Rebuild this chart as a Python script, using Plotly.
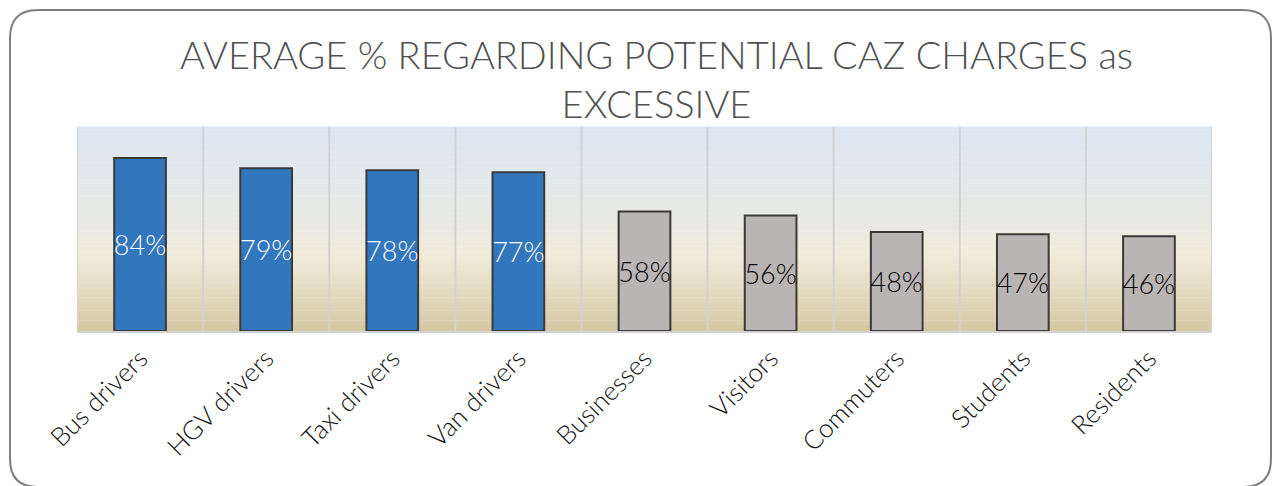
import plotly.graph_objects as go

categories = ["Bus drivers", "HGV drivers", "Taxi drivers", "Van drivers", "Businesses",
              "Visitors", "Commuters", "Students", "Residents"]
values = [84, 79, 78, 77, 58, 56, 48, 47, 46]
labels = ["84%", "79%", "78%", "77%", "58%", "56%", "48%", "47%", "46%"]
groups = ["driver", "driver", "driver", "driver", "other", "other", "other", "other", "other"]

W, H = 1275, 486
ML, MR, MT, MB = 77, 63, 127, 155
PW, PH = W - ML - MR, H - MT - MB

def px_x(p):
    return (p - ML) / PW

def px_y(p):
    return (H - MB - p) / PH

FONT = "Lato, Open Sans, sans-serif"
fill = {"driver": "#3276be", "other": "#b9b5b4"}
tcol = {"driver": "white", "other": "black"}

fig = go.Figure()
fig.add_trace(go.Bar(
    x=categories, y=values, text=labels,
    textposition="inside", insidetextanchor="middle", constraintext="none", textangle=0,
    textfont=dict(size=27, family=FONT, color=[tcol[g] for g in groups], weight=300),
    marker=dict(color=[fill[g] for g in groups],
                line=dict(color="#3a3a3a", width=2)),
    width=0.41, hoverinfo="skip", cliponaxis=False,
))

shapes = []
# gradient plot background
stops = [(0.0, (219, 231, 243)), (0.45, (232, 233, 228)), (0.62, (241, 236, 220)), (1.0, (213, 200, 163))]
N = 80
for i in range(N):
    t = (i + 0.5) / N
    for j in range(len(stops) - 1):
        if stops[j][0] <= t <= stops[j + 1][0]:
            a, ca = stops[j]
            b, cb = stops[j + 1]
            f = (t - a) / (b - a)
            c = tuple(int(round(ca[k] + (cb[k] - ca[k]) * f)) for k in range(3))
            break
    shapes.append(dict(type="rect", xref="paper", yref="paper", x0=0, x1=1,
                       y0=1 - (i + 1) / N, y1=1 - i / N + 0.002,
                       fillcolor="rgb(%d,%d,%d)" % c, line=dict(width=0), layer="below"))
# vertical gridlines between categories
for k in range(len(categories) + 1):
    shapes.append(dict(type="line", xref="x", yref="paper", x0=k - 0.5, x1=k - 0.5,
                       y0=0, y1=1, line=dict(color="#d2d2d2", width=2), layer="below"))

# rounded border
x0, x1, y0, y1, r = 10, 1271, 10, 487, 28
def P(x, y):
    return "%.5f,%.5f" % (px_x(x), px_y(y))
path = ("M " + P(x0 + r, y0) + " L " + P(x1 - r, y0) +
        " Q " + P(x1, y0) + " " + P(x1, y0 + r) +
        " L " + P(x1, y1 - r) + " Q " + P(x1, y1) + " " + P(x1 - r, y1) +
        " L " + P(x0 + r, y1) + " Q " + P(x0, y1) + " " + P(x0, y1 - r) +
        " L " + P(x0, y0 + r) + " Q " + P(x0, y0) + " " + P(x0 + r, y0) + " Z")
shapes.append(dict(type="path", xref="paper", yref="paper", path=path,
                   line=dict(color="#7f7f7f", width=2), layer="above"))

title_text = "AVERAGE % REGARDING POTENTIAL CAZ CHARGES as<br>EXCESSIVE"

fig.update_layout(
    width=W, height=H,
    margin=dict(l=ML, r=MR, t=MT, b=MB),
    paper_bgcolor="white", plot_bgcolor="rgba(0,0,0,0)",
    showlegend=False,
    shapes=shapes,
    annotations=[dict(text=title_text, xref="paper", yref="paper",
                      x=px_x(656), y=px_y(78), xanchor="center", yanchor="middle",
                      showarrow=False,
                      font=dict(size=38, color="#505050", family=FONT, weight=300))],
)
fig.update_xaxes(tickangle=-45, tickfont=dict(size=26, color="#111111", family=FONT, weight=300),
                 showgrid=False, showline=True, linecolor="#d2d2d2", linewidth=2, ticks="",
                 range=[-0.5, len(categories) - 0.5])
fig.update_yaxes(range=[0, 99], showticklabels=False, showgrid=False, zeroline=False)

fig.write_html("out.html")
